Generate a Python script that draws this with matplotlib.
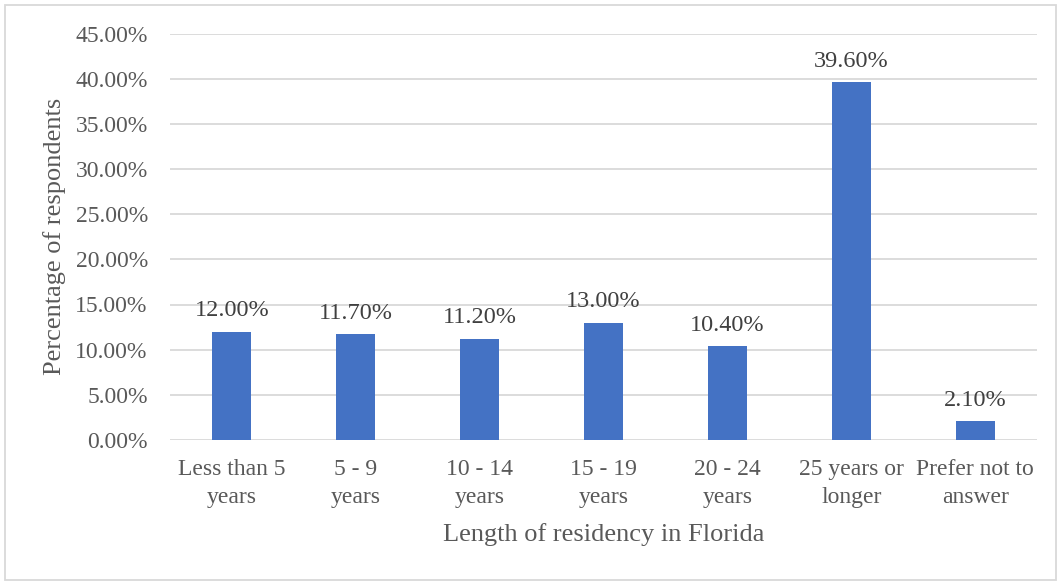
import matplotlib
matplotlib.use("Agg")
import matplotlib.pyplot as plt
from matplotlib.patches import Rectangle
from matplotlib.ticker import MultipleLocator, FuncFormatter

categories = ["Less than 5\nyears", "5 - 9\nyears", "10 - 14\nyears", "15 - 19\nyears",
              "20 - 24\nyears", "25 years or\nlonger", "Prefer not to\nanswer"]
values = [12.0, 11.7, 11.2, 13.0, 10.4, 39.6, 2.1]

plt.rcParams["font.family"] = ["Liberation Serif", "DejaVu Serif"]
text_color = "#595959"
grid_color = "#d9d9d9"
bar_color = "#4472C4"

W, H = 1061, 582
fig = plt.figure(figsize=(W / 100, H / 100), dpi=100)
ax = fig.add_axes([170 / W, 1 - 440 / H, 867 / W, 406.5 / H])

x = list(range(len(categories)))
bars = ax.bar(x, values, width=0.315, color=bar_color, zorder=3)

ax.set_xlim(-0.5, len(categories) - 0.5)
ax.set_ylim(0, 45)
ax.yaxis.set_major_locator(MultipleLocator(5))
ax.yaxis.set_major_formatter(FuncFormatter(lambda v, p: f"{v:.2f}%"))
ax.grid(axis="y", color=grid_color, linewidth=1.3, zorder=0)
ax.set_xticks(x)
ax.set_xticklabels(categories, linespacing=1.38)
ax.tick_params(axis="both", length=0, labelsize=17, colors=text_color)
ax.tick_params(axis="y", pad=16)
ax.tick_params(axis="x", pad=14)
for s in ax.spines.values():
    s.set_visible(False)

for b, v in zip(bars, values):
    ax.annotate(f"{v:.2f}%", (b.get_x() + b.get_width() / 2, v),
                xytext=(0, 7.5), textcoords="offset points",
                ha="center", va="bottom", fontsize=17.5, color="#404040")

fig.text(603.5 / W, 1 - 535 / H, "Length of residency in Florida",
         ha="center", va="center", fontsize=19, color=text_color)
fig.text(55 / W, 1 - 236 / H, "Percentage of respondents", rotation=90,
         ha="center", va="center", fontsize=19, color=text_color)

fig.patches.append(Rectangle((4.5 / W, 1 - 580 / H), 1051 / W, 575 / H,
                             transform=fig.transFigure, fill=False,
                             edgecolor=grid_color, linewidth=1.3))

fig.savefig("out.png", dpi=100)
